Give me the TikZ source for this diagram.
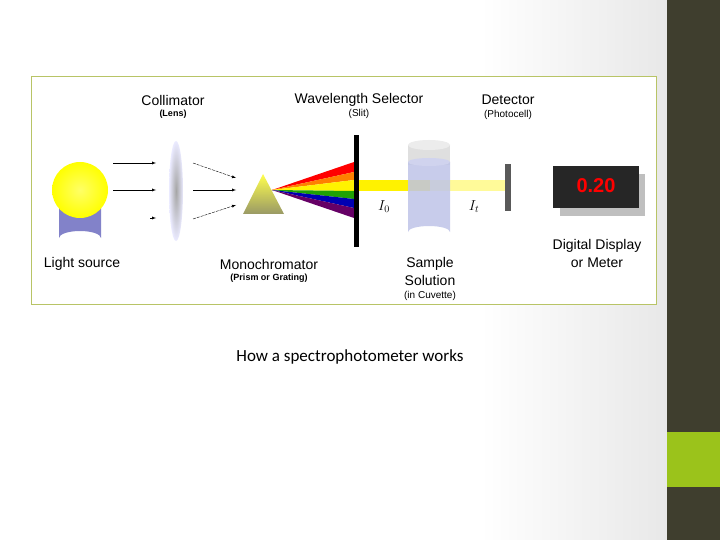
\documentclass[tikz,border=0pt]{standalone}
\usepackage{fontspec}
\setmainfont{Liberation Sans}
\newfontfamily\capfont{Carlito}
\begin{document}
\begin{tikzpicture}[x=1pt,y=-1pt,
  lab/.style={font=\fontsize{14}{15}\selectfont,inner sep=0pt},
  sub/.style={font=\fontsize{10}{11}\selectfont,inner sep=0pt},
  ray/.style={-latex,thin},
  dray/.style={-latex,thin,dash pattern=on 3pt off 1pt}]
\definecolor{olive}{HTML}{3F3E2E}
\definecolor{lime}{HTML}{9BC31B}
\definecolor{frame}{HTML}{B8C466}
\useasboundingbox (0,0) rectangle (720,540);
\shade[left color=white,right color=gray!18] (0,0) rectangle (667,540);
\fill[white] (0,0) rectangle (480,540);
\shade[left color=white,right color=gray!18] (480,0) rectangle (667,540);
\fill[olive] (667,0) rectangle (720,540);
\fill[lime] (667,432) rectangle (720,487);
\draw[frame,fill=white,line width=1pt] (31,77) rectangle (656,304);
% bulb
\fill[blue!40!gray!70] (59,200) -- (59,238) arc[start angle=180,end angle=0,x radius=21,y radius=-7] -- (101,200) -- cycle;
\shade[inner color=yellow!60,outer color=yellow] (80,190) circle (28);
\node (bulb) at (80,190) {};
% lens
\shade[inner color=gray!70,outer color=blue!8] (176,191) ellipse (7 and 50);
\node (lens) at (176,191) {};
% rays
\coordinate (a1) at (113,163); \coordinate (b1) at (156,163);
\coordinate (a2) at (113,190); \coordinate (b2) at (156,190);
\coordinate (a3) at (150,218); \coordinate (b3) at (156,218);
\draw[ray] (a1) -- (b1); \draw[ray] (a2) -- (b2); \draw[ray] (a3) -- (b3);
\coordinate (c1) at (193,163); \coordinate (d1) at (236,178);
\coordinate (c2) at (193,190); \coordinate (d2) at (236,190);
\coordinate (c3) at (193,219); \coordinate (d3) at (236,205);
\draw[dray] (c1) -- (d1); \draw[ray] (c2) -- (d2); \draw[dray] (c3) -- (d3);
% spectrum
\coordinate (o) at (272,190);
\fill[red] (o) -- (354,162) -- (354,172) -- cycle;
\fill[orange] (o) -- (354,172) -- (354,180) -- cycle;
\fill[yellow] (o) -- (354,180) -- (354,191) -- cycle;
\fill[green!60!black!80!lime] (o) -- (354,191) -- (354,199) -- cycle;
\fill[blue!70!black] (o) -- (354,199) -- (354,208) -- cycle;
\fill[violet!80!black] (o) -- (354,208) -- (354,218) -- cycle;
% prism
\shade[top color=yellow!70!white,bottom color=gray!80!yellow] (263,174) -- (284,214) -- (243,214) -- cycle;
\node (prism) at (263,200) {};
% beam
\fill[yellow] (356,180) rectangle (430,191);
\fill[yellow!40] (430,180) rectangle (505,191);
% cuvette
\fill[gray!25] (408,145) rectangle (450,165);
\fill[gray!15] (429,145) ellipse (21 and 5);
\fill[cyan!30!blue!25,opacity=0.85] (408,162) -- (408,232) arc[start angle=180,end angle=0,x radius=21,y radius=-6] -- (450,162) -- cycle;
\fill[cyan!30!blue!18] (429,162) ellipse (21 and 4);
\node (cuv) at (429,190) {};
% slit
\fill[black] (354,135) rectangle (359,247);
\node (slit) at (356,190) {};
% detector
\fill[gray!70!black] (505,164) rectangle (511,211);
\node (det) at (508,188) {};
% display
\fill[gray!50] (560,174) rectangle (645,216);
\fill[black!85] (553,166) rectangle (639,208);
\node[font=\fontsize{20}{22}\selectfont\bfseries,text=red] (disp) at (596,186) {0.20};
% labels
\node[lab] at (173,100) {Collimator};
\node[sub,font=\fontsize{9}{10}\selectfont\bfseries] at (173,114) {(Lens)};
\node[lab] at (359,100) {Wavelength Selector};
\node[sub] at (359,114) {(Slit)};
\node[lab] at (508,100) {Detector};
\node[sub] at (508,115) {(Photocell)};
\node[lab] at (82,264) {Light source};
\node[lab] at (269,264) {Monochromator};
\node[sub,font=\fontsize{9}{10}\selectfont\bfseries] at (269,278) {(Prism or Grating)};
\node[lab] at (430,264) {Sample};
\node[lab] at (430,280) {Solution};
\node[sub] at (430,296) {(in Cuvette)};
\node[lab] at (597,246) {Digital Display};
\node[lab] at (597,263) {or Meter};
\node[font=\fontsize{14}{15}\selectfont\itshape\rmfamily] at (384,207) {$I_0$};
\node[font=\fontsize{14}{15}\selectfont] at (474,207) {$I_t$};
\node[font=\capfont\fontsize{17}{18}\selectfont] at (350,357) {How a spectrophotometer works};
\end{tikzpicture}
\end{document}
